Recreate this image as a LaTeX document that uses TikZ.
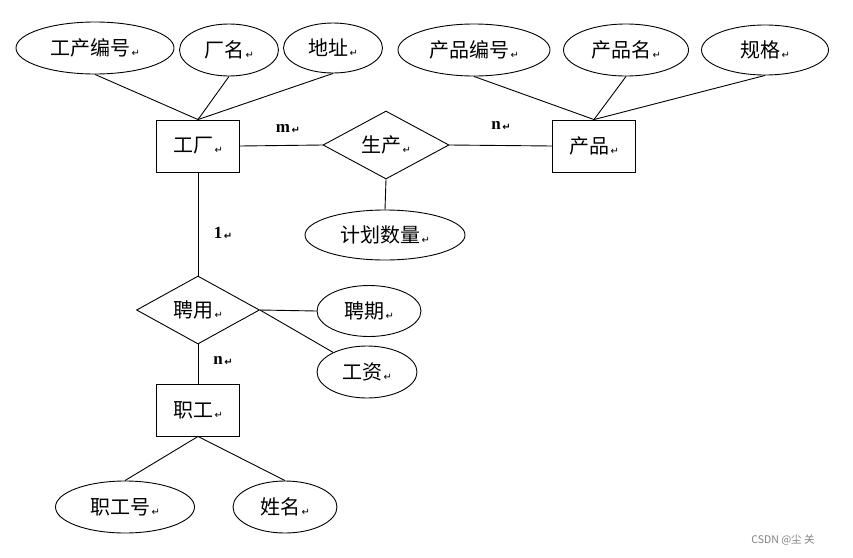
\documentclass[tikz,border=0pt]{standalone}
\usepackage{fontspec}
\setmainfont{Liberation Serif}
\newfontfamily\cjk{Noto Sans CJK SC}
\newfontfamily\symf{DejaVu Sans}
\usetikzlibrary{shapes.geometric}
\newcommand{\enterkey}{{\kern1.5pt\symf\fontsize{10}{10}\selectfont\raisebox{-1pt}{↵}}}
\begin{document}
\begin{tikzpicture}[x=1pt,y=-1pt,line width=0.9pt,
  entity/.style={draw,rectangle,minimum width=83pt,minimum height=52pt,inner sep=0pt,font=\cjk\fontsize{20}{22}\selectfont},
  attr/.style={draw,ellipse,minimum height=52pt,inner sep=0pt,font=\cjk\fontsize{20}{22}\selectfont},
  rel/.style={draw,diamond,aspect=2,inner sep=0pt,minimum width=126pt,minimum height=68pt,font=\cjk\fontsize{20}{22}\selectfont},
  card/.style={font=\bfseries\fontsize{17}{17}\selectfont}]
  \useasboundingbox (0,0) rectangle (853,557);

  % Entities and relationships
  \node[entity] (factory) at (198,146) {工厂\enterkey};
  \node[entity] (product) at (594,146) {产品\enterkey};
  \node[entity] (worker) at (198,410) {职工\enterkey};
  \node[rel] (produce) at (386,145) {生产\enterkey};
  \node[rel,minimum width=123pt] (hire) at (198,310) {聘用\enterkey};

  % Attributes
  \node[attr,minimum width=158pt] (fno) at (95,48) {工产编号\enterkey};
  \node[attr,minimum width=99pt] (fname) at (229,50) {厂名\enterkey};
  \node[attr,minimum width=99pt,minimum height=50pt] (faddr) at (333,48) {地址\enterkey};
  \node[attr,minimum width=152pt] (pno) at (474,50) {产品编号\enterkey};
  \node[attr,minimum width=125pt] (pname) at (626,50) {产品名\enterkey};
  \node[attr,minimum width=127pt,minimum height=50pt] (pspec) at (765,50) {规格\enterkey};
  \node[attr,minimum width=160pt,minimum height=50pt] (plan) at (385,235) {计划数量\enterkey};
  \node[attr,minimum width=104pt,minimum height=51pt] (term) at (369,311) {聘期\enterkey};
  \node[attr,minimum width=100pt] (wage) at (367,372) {工资\enterkey};
  \node[attr,minimum width=139pt] (wno) at (125,507) {职工号\enterkey};
  \node[attr,minimum width=104pt] (wname) at (285,507) {姓名\enterkey};

  % Attribute links
  \draw (fno.south) -- (factory.north);
  \draw (fname.south) -- (factory.north);
  \draw (faddr.south) -- (factory.north);
  \draw (pno.south) -- (product.north);
  \draw (pname.south) -- (product.north);
  \draw (pspec.south) -- (product.north);
  \draw (produce.south) -- (plan.north);
  \draw (hire.east) -- (term.west);
  \draw (hire.east) -- (wage);
  \draw (worker.south) -- (wno.north);
  \draw (worker.south) -- (wname.north);

  % Relationship links
  \draw (factory.east) -- (produce.west);
  \draw (produce.east) -- (product.west);
  \draw (factory.south) -- (hire.north);
  \draw (hire.south) -- (worker.north);

  % Cardinalities
  \node[card] (cm) at (288,129) {m\enterkey};
  \node[card] (cn) at (501,126) {n\enterkey};
  \node[card] (c1) at (223,233) {1\enterkey};
  \node[card] (cn2) at (223,361) {n\enterkey};

  % Watermark
  \node[font=\cjk\fontsize{10.5}{11}\selectfont,text=gray] (mark) at (783,540) {CSDN @尘 关};
\end{tikzpicture}
\end{document}
